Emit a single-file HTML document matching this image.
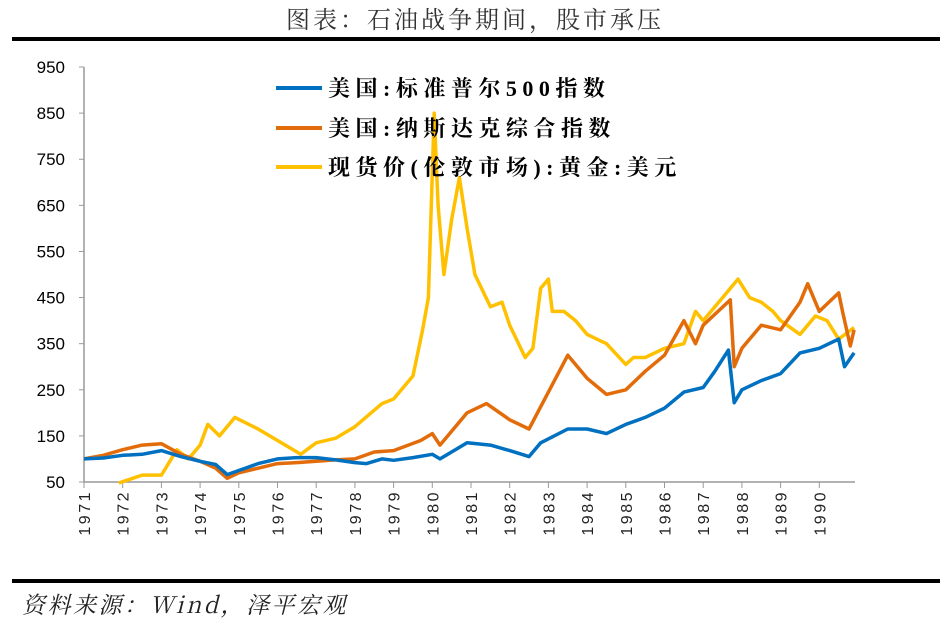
<!DOCTYPE html>
<html><head><meta charset="utf-8"><style>
body{margin:0;background:#fff;}
svg{display:block;font-family:"Liberation Sans","Noto Sans CJK SC",sans-serif;}
</style></head><body>
<svg width="940" height="625">
<text x="475" y="28" text-anchor="middle" font-size="24" letter-spacing="3" fill="#333" font-family="'Noto Serif CJK SC','Liberation Serif',serif">图表：石油战争期间，股市承压</text>
<rect x="12" y="37" width="928" height="4" fill="#000"/>
<rect x="12" y="579" width="928" height="4" fill="#000"/>
<text x="22" y="613" font-size="23" letter-spacing="2.5" font-style="italic" fill="#222" font-family="'Noto Serif CJK SC','Liberation Serif',serif">资料来源：Wind，泽平宏观</text>
<g id="axes"></g>
<g id="plot"></g>
<g id="legend" font-family="'Liberation Serif','Noto Serif CJK SC',serif" font-weight="bold" font-size="22" letter-spacing="5.5" fill="#000">
<line x1="276" y1="88" x2="322" y2="88" stroke="#0070C0" stroke-width="4"/>
<text x="328" y="96">美国:标准普尔500指数</text>
<line x1="276" y1="128" x2="322" y2="128" stroke="#E36C0A" stroke-width="4"/>
<text x="328" y="136">美国:纳斯达克综合指数</text>
<line x1="276" y1="167" x2="322" y2="167" stroke="#FFC000" stroke-width="4"/>
<text x="328" y="175">现货价(伦敦市场):黄金:美元</text>
</g>
</svg>
<script>
const yTicks=[50,150,250,350,450,550,650,750,850,950];
const years=[1971,1972,1973,1974,1975,1976,1977,1978,1979,1980,1981,1982,1983,1984,1985,1986,1987,1988,1989,1990];
const spT=[1971,1971.5,1972,1972.5,1973,1973.5,1974,1974.4,1974.7,1975,1975.5,1976,1976.5,1977,1977.5,1978,1978.3,1978.7,1979,1979.5,1980,1980.2,1980.9,1981.5,1982,1982.5,1982.8,1983.5,1984,1984.5,1985,1985.5,1986,1986.5,1987,1987.3,1987.65,1987.8,1988,1988.5,1989,1989.5,1990,1990.5,1990.65,1990.9];
const spV=[100,102,108,110,118,105,95,88,66,75,90,100,103,103,98,92,90,100,97,103,110,100,135,130,118,105,135,165,165,155,175,190,210,245,255,290,336,222,250,270,285,330,340,360,300,330];
const nqT=[1971,1971.5,1972,1972.5,1973,1973.5,1974,1974.4,1974.7,1975,1975.5,1976,1976.5,1977,1977.5,1978,1978.5,1979,1979.7,1980,1980.2,1980.9,1981.4,1982,1982.5,1983,1983.5,1984,1984.5,1985,1985.5,1986,1986.5,1986.8,1987,1987.7,1987.8,1988,1988.5,1989,1989.5,1989.7,1990,1990.5,1990.6,1990.8,1990.9];
const nqV=[100,108,120,130,133,110,95,80,58,70,80,90,92,95,98,100,115,118,140,155,130,200,220,185,165,245,325,275,240,250,290,325,400,350,390,445,300,340,390,380,440,480,420,460,420,345,380];
const gdT=[1971.9,1972.5,1973,1973.4,1973.7,1974,1974.2,1974.5,1974.9,1975.5,1976,1976.6,1977,1977.5,1978,1978.7,1979,1979.5,1979.75,1979.9,1980.05,1980.15,1980.3,1980.5,1980.7,1980.9,1981.1,1981.5,1981.8,1982,1982.4,1982.6,1982.8,1983,1983.1,1983.4,1983.7,1984,1984.5,1985,1985.2,1985.5,1986,1986.5,1986.8,1987,1987.5,1987.9,1988.2,1988.5,1988.8,1989,1989.5,1989.9,1990.2,1990.5,1990.9];
const gdV=[45,65,65,120,100,130,175,150,190,165,140,110,135,145,170,220,230,280,380,450,850,650,500,620,710,600,500,430,440,390,320,340,470,490,420,420,400,370,350,305,320,320,340,350,420,400,450,490,450,440,420,400,370,410,400,360,385];
const X=t=>84+(t-1971)*38.7;
const Y=v=>482-(v-50)*0.4611;
const NS='http://www.w3.org/2000/svg';
const ax=document.getElementById('axes'),pl=document.getElementById('plot');
function mk(tag,attrs,parent){const e=document.createElementNS(NS,tag);for(const k in attrs)e.setAttribute(k,attrs[k]);parent.appendChild(e);return e;}
let e=mk('line',{x1:84,y1:Y(950),x2:84,y2:Y(50),stroke:'#999','stroke-width':1.5},ax);


e=mk('line',{x1:84,y1:Y(50),x2:855,y2:Y(50),stroke:'#999','stroke-width':1.5},ax);


yTicks.forEach(v=>{
 mk('line',{x1:79,y1:Y(v),x2:84,y2:Y(v),stroke:'#999'},ax);
 const t=mk('text',{x:65,y:Y(v)+6,'text-anchor':'end','font-size':17,fill:'#000'},ax);
 t.textContent=v;
 
 
});
years.forEach(y=>{
 const x=X(y);
 mk('line',{x1:x,y1:Y(50),x2:x,y2:Y(50)+6,stroke:'#999'},ax);
 const t=mk('text',{x:0,y:0,'text-anchor':'end','font-size':16,'letter-spacing':2.5,fill:'#222',transform:`translate(${x+6},490) rotate(-90)`},ax);
 t.textContent=y;
 
 
});
function series(T,V,color,name){
 const d=T.map((t,i)=>(i?'L':'M')+X(t).toFixed(1)+','+Math.min(Y(V[i]),483).toFixed(1)).join('');
 const p=mk('path',{d:d,fill:'none',stroke:color,'stroke-width':3.5,'stroke-linejoin':'round'},pl);
 
 
}
series(gdT,gdV,'#FFC000','gold-line');
series(nqT,nqV,'#E36C0A','nasdaq-line');
series(spT,spV,'#0070C0','sp500-line');
</script>
</body></html>
